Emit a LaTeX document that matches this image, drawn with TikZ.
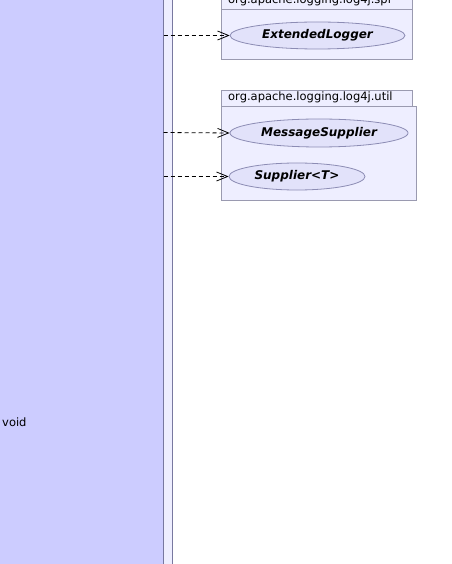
\documentclass[tikz,border=0pt]{standalone}
\usepackage{fontspec}
\setmainfont{DejaVu Sans}
\usetikzlibrary{arrows.meta,shapes.geometric}
\definecolor{classfill}{HTML}{CCCCFF}
\definecolor{pkgfill}{HTML}{EEEEFF}
\definecolor{pkgline}{HTML}{9A9AB0}
\definecolor{ellfill}{HTML}{E2E2FA}
\definecolor{ellline}{HTML}{8C8CB4}
\definecolor{boxline}{HTML}{7878A0}
\tikzset{
  pkgbox/.style={draw=pkgline, fill=pkgfill, line width=0.8pt},
  iface/.style={ellipse, draw=ellline, fill=ellfill, line width=0.8pt, inner sep=0pt,
    font=\fontsize{12}{14}\selectfont\bfseries\itshape},
  realize/.style={draw=black, dashed, dash pattern=on 4pt off 3pt, line width=0.8pt,
    -{Straight Barb[length=11pt,width=9pt,line width=0.8pt]}},
  pkglabel/.style={anchor=south west, inner sep=0pt, font=\fontsize{11.5}{13}\selectfont}
}
\begin{document}
\begin{tikzpicture}[x=1pt,y=-1pt]
\useasboundingbox (0,0) rectangle (451,564);
\fill[white] (0,0) rectangle (451,564);
% outer strip and class box
\draw[draw=boxline, fill=pkgfill, line width=0.8pt] (-5,-5) rectangle (172,570);
\draw[draw=boxline, fill=classfill, line width=0.8pt] (-5,-5) rectangle (163.5,570);
\node[anchor=west, inner sep=0pt, font=\fontsize{11.5}{13}\selectfont] (void) at (2,422) {void};
% spi package
\draw[pkgbox] (221,-10) rectangle (412,9.5);
\draw[pkgbox] (221,9.5) rectangle (412,59);
\node[pkglabel] (spilabel) at (228,6.5) {org.apache.logging.log4j.spi};
\node[iface, minimum width=175pt, minimum height=27pt] (ext) at (317.5,35.5) {ExtendedLogger};
% util package
\draw[pkgbox] (221,90) rectangle (412,106.5);
\draw[pkgbox] (221,106.5) rectangle (416.5,200);
\node[pkglabel] (utillabel) at (228,103) {org.apache.logging.log4j.util};
\node[iface, minimum width=178pt, minimum height=28pt] (msg) at (319,133) {MessageSupplier};
\node[iface, minimum width=136pt, minimum height=27pt] (sup) at (297,176.5) {Supplier<T>};
% connectors
\coordinate (s1) at (163.5,35.5);
\coordinate (s2) at (163.5,132.5);
\coordinate (s3) at (163.5,176.5);
\draw[realize] (s1) -- (ext.west);
\draw[realize] (s2) -- (msg.west);
\draw[realize] (s3) -- (sup.west);
\end{tikzpicture}
\end{document}
